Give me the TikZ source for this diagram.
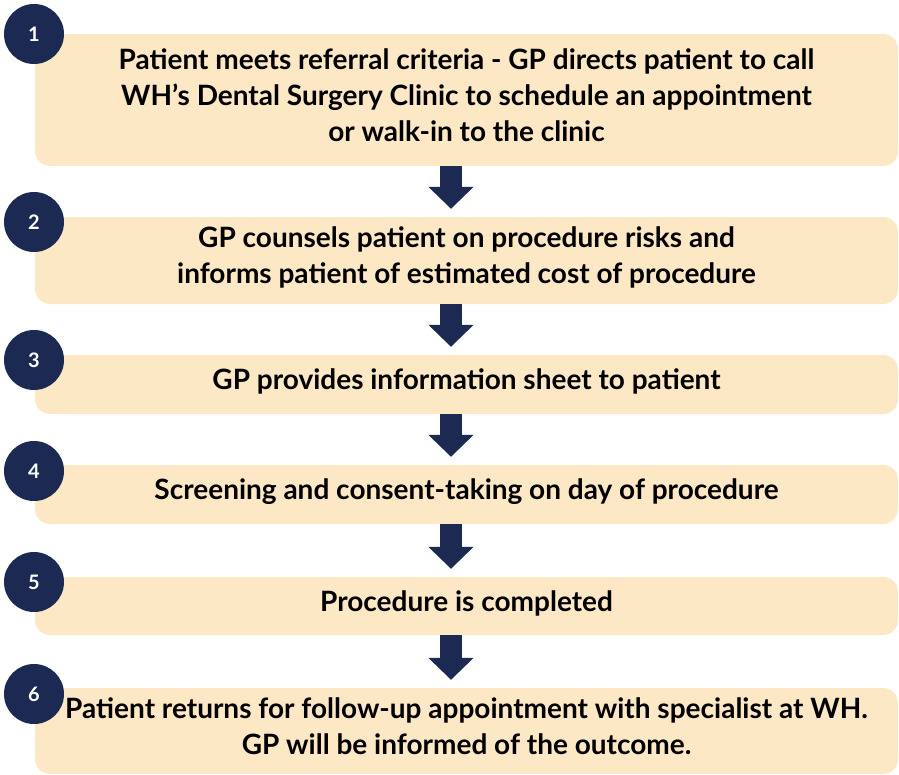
\documentclass[tikz,border=0pt]{standalone}
\usepackage{fontspec}
\setmainfont{Lato}[BoldFont={Lato Bold}]
\usetikzlibrary{arrows.meta}
\definecolor{peach}{HTML}{FDE8C6}
\definecolor{navy}{HTML}{1B2953}

\begin{document}
\begin{tikzpicture}[x=1pt,y=-1pt,
  stepbox/.style={fill=peach,rounded corners=15pt,minimum width=863pt,inner sep=0pt,
    text depth=10pt,align=center,font=\bfseries\fontsize{28}{36}\selectfont},
  numdot/.style={circle,fill=navy,minimum size=60pt,inner sep=0pt,text=white,
    font=\bfseries\fontsize{20}{20}\selectfont},
  flowarrow/.style={navy,line width=22pt,-{Triangle[width=44pt,length=22pt]}}]
\useasboundingbox (0,0) rectangle (899,774);

% Steps
\node[stepbox,minimum height=132pt] (s1) at (466.5,100) {Patient meets referral criteria - GP directs patient to call\\WH’s Dental Surgery Clinic to schedule an appointment\\or walk-in to the clinic};
\node[stepbox,minimum height=87pt] (s2) at (466.5,260.5) {GP counsels patient on procedure risks and\\informs patient of estimated cost of procedure};
\node[stepbox,minimum height=59pt] (s3) at (466.5,384.5) {GP provides information sheet to patient};
\node[stepbox,minimum height=59pt] (s4) at (466.5,494.5) {Screening and consent-taking on day of procedure};
\node[stepbox,minimum height=58pt] (s5) at (466.5,606) {Procedure is completed};
\node[stepbox,minimum height=86pt] (s6) at (466.5,731) {Patient returns for follow-up appointment with specialist at WH.\\GP will be informed of the outcome.};

% Numbers
\node[numdot] (n1) at (34,34) {1};
\node[numdot] (n2) at (34,222) {2};
\node[numdot] (n3) at (34,360) {3};
\node[numdot] (n4) at (34,471) {4};
\node[numdot] (n5) at (34,582) {5};
\node[numdot] (n6) at (34,694) {6};

% Arrows
\draw[flowarrow] ([xshift=-15.5pt]s1.south) -- ([xshift=-15.5pt,yshift=8pt]s2.north);
\draw[flowarrow] ([xshift=-15.5pt]s2.south) -- ([xshift=-15.5pt,yshift=8pt]s3.north);
\draw[flowarrow] ([xshift=-15.5pt]s3.south) -- ([xshift=-15.5pt,yshift=8pt]s4.north);
\draw[flowarrow] ([xshift=-15.5pt]s4.south) -- ([xshift=-15.5pt,yshift=8pt]s5.north);
\draw[flowarrow] ([xshift=-15.5pt]s5.south) -- ([xshift=-15.5pt,yshift=8pt]s6.north);
\end{tikzpicture}
\end{document}
